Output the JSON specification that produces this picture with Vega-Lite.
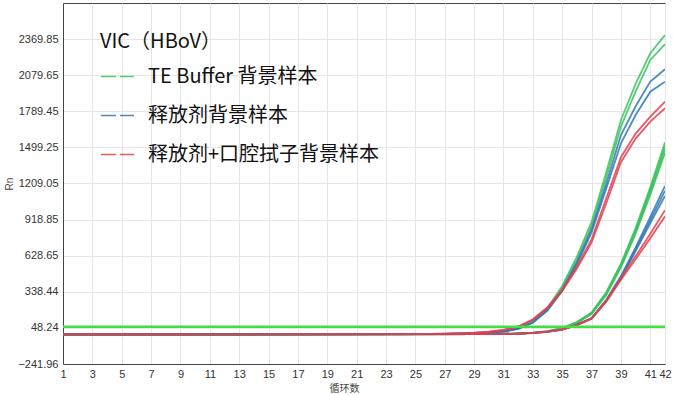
{
  "$schema": "https://vega.github.io/schema/vega-lite/v6.json",
  "autosize": "none",
  "width": 602,
  "height": 361,
  "padding": {"left": 63, "top": 3, "right": 8, "bottom": 31},
  "background": "white",
  "config": {
    "view": {"stroke": "#444", "strokeWidth": 1},
    "axis": {"labelFont": "Liberation Sans", "labelFontSize": 11, "labelColor": "#333", "titleFont": "Liberation Sans", "titleFontWeight": "normal", "titleColor": "#444", "titleFontSize": 10, "gridColor": "#e6e6e6", "gridWidth": 1, "domainColor": "#444", "ticks": false}
  },
  "datasets": {
    "curves": [
      {"w":"EG1","g":"TE Buffer 背景样本","c":1,"v":-4},{"w":"EG1","g":"TE Buffer 背景样本","c":26,"v":-2},{"w":"EG1","g":"TE Buffer 背景样本","c":27,"v":0},{"w":"EG1","g":"TE Buffer 背景样本","c":28,"v":3},{"w":"EG1","g":"TE Buffer 背景样本","c":29,"v":6},{"w":"EG1","g":"TE Buffer 背景样本","c":30,"v":11},{"w":"EG1","g":"TE Buffer 背景样本","c":31,"v":21},{"w":"EG1","g":"TE Buffer 背景样本","c":32,"v":45},{"w":"EG1","g":"TE Buffer 背景样本","c":33,"v":100},{"w":"EG1","g":"TE Buffer 背景样本","c":34,"v":210},{"w":"EG1","g":"TE Buffer 背景样本","c":35,"v":385},{"w":"EG1","g":"TE Buffer 背景样本","c":36,"v":620},{"w":"EG1","g":"TE Buffer 背景样本","c":37,"v":900},{"w":"EG1","g":"TE Buffer 背景样本","c":38,"v":1300},{"w":"EG1","g":"TE Buffer 背景样本","c":39,"v":1720},{"w":"EG1","g":"TE Buffer 背景样本","c":40,"v":2010},{"w":"EG1","g":"TE Buffer 背景样本","c":41,"v":2256},{"w":"EG1","g":"TE Buffer 背景样本","c":42,"v":2403},
      {"w":"EG2","g":"TE Buffer 背景样本","c":1,"v":-4},{"w":"EG2","g":"TE Buffer 背景样本","c":26,"v":-2},{"w":"EG2","g":"TE Buffer 背景样本","c":27,"v":0},{"w":"EG2","g":"TE Buffer 背景样本","c":28,"v":3},{"w":"EG2","g":"TE Buffer 背景样本","c":29,"v":6},{"w":"EG2","g":"TE Buffer 背景样本","c":30,"v":11},{"w":"EG2","g":"TE Buffer 背景样本","c":31,"v":20},{"w":"EG2","g":"TE Buffer 背景样本","c":32,"v":43},{"w":"EG2","g":"TE Buffer 背景样本","c":33,"v":95},{"w":"EG2","g":"TE Buffer 背景样本","c":34,"v":200},{"w":"EG2","g":"TE Buffer 背景样本","c":35,"v":370},{"w":"EG2","g":"TE Buffer 背景样本","c":36,"v":595},{"w":"EG2","g":"TE Buffer 背景样本","c":37,"v":870},{"w":"EG2","g":"TE Buffer 背景样本","c":38,"v":1260},{"w":"EG2","g":"TE Buffer 背景样本","c":39,"v":1666},{"w":"EG2","g":"TE Buffer 背景样本","c":40,"v":1950},{"w":"EG2","g":"TE Buffer 背景样本","c":41,"v":2202},{"w":"EG2","g":"TE Buffer 背景样本","c":42,"v":2330},
      {"w":"EB1","g":"释放剂背景样本","c":1,"v":-4},{"w":"EB1","g":"释放剂背景样本","c":26,"v":-2},{"w":"EB1","g":"释放剂背景样本","c":27,"v":0},{"w":"EB1","g":"释放剂背景样本","c":28,"v":3},{"w":"EB1","g":"释放剂背景样本","c":29,"v":6},{"w":"EB1","g":"释放剂背景样本","c":30,"v":11},{"w":"EB1","g":"释放剂背景样本","c":31,"v":19},{"w":"EB1","g":"释放剂背景样本","c":32,"v":42},{"w":"EB1","g":"释放剂背景样本","c":33,"v":92},{"w":"EB1","g":"释放剂背景样本","c":34,"v":195},{"w":"EB1","g":"释放剂背景样本","c":35,"v":355},{"w":"EB1","g":"释放剂背景样本","c":36,"v":575},{"w":"EB1","g":"释放剂背景样本","c":37,"v":840},{"w":"EB1","g":"释放剂背景样本","c":38,"v":1210},{"w":"EB1","g":"释放剂背景样本","c":39,"v":1599},{"w":"EB1","g":"释放剂背景样本","c":40,"v":1830},{"w":"EB1","g":"释放剂背景样本","c":41,"v":2028},{"w":"EB1","g":"释放剂背景样本","c":42,"v":2127},
      {"w":"EB2","g":"释放剂背景样本","c":1,"v":-4},{"w":"EB2","g":"释放剂背景样本","c":26,"v":-2},{"w":"EB2","g":"释放剂背景样本","c":27,"v":0},{"w":"EB2","g":"释放剂背景样本","c":28,"v":3},{"w":"EB2","g":"释放剂背景样本","c":29,"v":6},{"w":"EB2","g":"释放剂背景样本","c":30,"v":10},{"w":"EB2","g":"释放剂背景样本","c":31,"v":18},{"w":"EB2","g":"释放剂背景样本","c":32,"v":40},{"w":"EB2","g":"释放剂背景样本","c":33,"v":90},{"w":"EB2","g":"释放剂背景样本","c":34,"v":188},{"w":"EB2","g":"释放剂背景样本","c":35,"v":345},{"w":"EB2","g":"释放剂背景样本","c":36,"v":560},{"w":"EB2","g":"释放剂背景样本","c":37,"v":815},{"w":"EB2","g":"释放剂背景样本","c":38,"v":1170},{"w":"EB2","g":"释放剂背景样本","c":39,"v":1532},{"w":"EB2","g":"释放剂背景样本","c":40,"v":1760},{"w":"EB2","g":"释放剂背景样本","c":41,"v":1947},{"w":"EB2","g":"释放剂背景样本","c":42,"v":2027},
      {"w":"ER1","g":"释放剂+口腔拭子背景样本","c":1,"v":-4},{"w":"ER1","g":"释放剂+口腔拭子背景样本","c":26,"v":0},{"w":"ER1","g":"释放剂+口腔拭子背景样本","c":27,"v":2},{"w":"ER1","g":"释放剂+口腔拭子背景样本","c":28,"v":5},{"w":"ER1","g":"释放剂+口腔拭子背景样本","c":29,"v":10},{"w":"ER1","g":"释放剂+口腔拭子背景样本","c":30,"v":18},{"w":"ER1","g":"释放剂+口腔拭子背景样本","c":31,"v":32},{"w":"ER1","g":"释放剂+口腔拭子背景样本","c":32,"v":60},{"w":"ER1","g":"释放剂+口腔拭子背景样本","c":33,"v":118},{"w":"ER1","g":"释放剂+口腔拭子背景样本","c":34,"v":215},{"w":"ER1","g":"释放剂+口腔拭子背景样本","c":35,"v":355},{"w":"ER1","g":"释放剂+口腔拭子背景样本","c":36,"v":540},{"w":"ER1","g":"释放剂+口腔拭子背景样本","c":37,"v":760},{"w":"ER1","g":"释放剂+口腔拭子背景样本","c":38,"v":1090},{"w":"ER1","g":"释放剂+口腔拭子背景样本","c":39,"v":1420},{"w":"ER1","g":"释放剂+口腔拭子背景样本","c":40,"v":1610},{"w":"ER1","g":"释放剂+口腔拭子背景样本","c":41,"v":1746},{"w":"ER1","g":"释放剂+口腔拭子背景样本","c":42,"v":1867},
      {"w":"ER2","g":"释放剂+口腔拭子背景样本","c":1,"v":-4},{"w":"ER2","g":"释放剂+口腔拭子背景样本","c":26,"v":0},{"w":"ER2","g":"释放剂+口腔拭子背景样本","c":27,"v":2},{"w":"ER2","g":"释放剂+口腔拭子背景样本","c":28,"v":5},{"w":"ER2","g":"释放剂+口腔拭子背景样本","c":29,"v":9},{"w":"ER2","g":"释放剂+口腔拭子背景样本","c":30,"v":17},{"w":"ER2","g":"释放剂+口腔拭子背景样本","c":31,"v":30},{"w":"ER2","g":"释放剂+口腔拭子背景样本","c":32,"v":57},{"w":"ER2","g":"释放剂+口腔拭子背景样本","c":33,"v":112},{"w":"ER2","g":"释放剂+口腔拭子背景样本","c":34,"v":205},{"w":"ER2","g":"释放剂+口腔拭子背景样本","c":35,"v":345},{"w":"ER2","g":"释放剂+口腔拭子背景样本","c":36,"v":525},{"w":"ER2","g":"释放剂+口腔拭子背景样本","c":37,"v":735},{"w":"ER2","g":"释放剂+口腔拭子背景样本","c":38,"v":1050},{"w":"ER2","g":"释放剂+口腔拭子背景样本","c":39,"v":1380},{"w":"ER2","g":"释放剂+口腔拭子背景样本","c":40,"v":1570},{"w":"ER2","g":"释放剂+口腔拭子背景样本","c":41,"v":1706},{"w":"ER2","g":"释放剂+口腔拭子背景样本","c":42,"v":1814},
      {"w":"LG1","g":"TE Buffer 背景样本","c":1,"v":-4},{"w":"LG1","g":"TE Buffer 背景样本","c":30,"v":-2},{"w":"LG1","g":"TE Buffer 背景样本","c":31,"v":0},{"w":"LG1","g":"TE Buffer 背景样本","c":32,"v":3},{"w":"LG1","g":"TE Buffer 背景样本","c":33,"v":9},{"w":"LG1","g":"TE Buffer 背景样本","c":34,"v":22},{"w":"LG1","g":"TE Buffer 背景样本","c":35,"v":46},{"w":"LG1","g":"TE Buffer 背景样本","c":36,"v":96},{"w":"LG1","g":"TE Buffer 背景样本","c":37,"v":172},{"w":"LG1","g":"TE Buffer 背景样本","c":38,"v":335},{"w":"LG1","g":"TE Buffer 背景样本","c":39,"v":565},{"w":"LG1","g":"TE Buffer 背景样本","c":40,"v":850},{"w":"LG1","g":"TE Buffer 背景样本","c":41,"v":1180},{"w":"LG1","g":"TE Buffer 背景样本","c":42,"v":1540},
      {"w":"LG2","g":"TE Buffer 背景样本","c":1,"v":-4},{"w":"LG2","g":"TE Buffer 背景样本","c":30,"v":-2},{"w":"LG2","g":"TE Buffer 背景样本","c":31,"v":0},{"w":"LG2","g":"TE Buffer 背景样本","c":32,"v":3},{"w":"LG2","g":"TE Buffer 背景样本","c":33,"v":9},{"w":"LG2","g":"TE Buffer 背景样本","c":34,"v":21},{"w":"LG2","g":"TE Buffer 背景样本","c":35,"v":44},{"w":"LG2","g":"TE Buffer 背景样本","c":36,"v":93},{"w":"LG2","g":"TE Buffer 背景样本","c":37,"v":168},{"w":"LG2","g":"TE Buffer 背景样本","c":38,"v":328},{"w":"LG2","g":"TE Buffer 背景样本","c":39,"v":555},{"w":"LG2","g":"TE Buffer 背景样本","c":40,"v":835},{"w":"LG2","g":"TE Buffer 背景样本","c":41,"v":1160},{"w":"LG2","g":"TE Buffer 背景样本","c":42,"v":1510},
      {"w":"LG3","g":"TE Buffer 背景样本","c":1,"v":-4},{"w":"LG3","g":"TE Buffer 背景样本","c":30,"v":-2},{"w":"LG3","g":"TE Buffer 背景样本","c":31,"v":0},{"w":"LG3","g":"TE Buffer 背景样本","c":32,"v":3},{"w":"LG3","g":"TE Buffer 背景样本","c":33,"v":8},{"w":"LG3","g":"TE Buffer 背景样本","c":34,"v":20},{"w":"LG3","g":"TE Buffer 背景样本","c":35,"v":42},{"w":"LG3","g":"TE Buffer 背景样本","c":36,"v":90},{"w":"LG3","g":"TE Buffer 背景样本","c":37,"v":163},{"w":"LG3","g":"TE Buffer 背景样本","c":38,"v":320},{"w":"LG3","g":"TE Buffer 背景样本","c":39,"v":545},{"w":"LG3","g":"TE Buffer 背景样本","c":40,"v":820},{"w":"LG3","g":"TE Buffer 背景样本","c":41,"v":1140},{"w":"LG3","g":"TE Buffer 背景样本","c":42,"v":1480},
      {"w":"LG4","g":"TE Buffer 背景样本","c":1,"v":-4},{"w":"LG4","g":"TE Buffer 背景样本","c":30,"v":-2},{"w":"LG4","g":"TE Buffer 背景样本","c":31,"v":0},{"w":"LG4","g":"TE Buffer 背景样本","c":32,"v":3},{"w":"LG4","g":"TE Buffer 背景样本","c":33,"v":8},{"w":"LG4","g":"TE Buffer 背景样本","c":34,"v":20},{"w":"LG4","g":"TE Buffer 背景样本","c":35,"v":41},{"w":"LG4","g":"TE Buffer 背景样本","c":36,"v":88},{"w":"LG4","g":"TE Buffer 背景样本","c":37,"v":160},{"w":"LG4","g":"TE Buffer 背景样本","c":38,"v":312},{"w":"LG4","g":"TE Buffer 背景样本","c":39,"v":535},{"w":"LG4","g":"TE Buffer 背景样本","c":40,"v":805},{"w":"LG4","g":"TE Buffer 背景样本","c":41,"v":1120},{"w":"LG4","g":"TE Buffer 背景样本","c":42,"v":1455},
      {"w":"LB1","g":"释放剂背景样本","c":1,"v":-4},{"w":"LB1","g":"释放剂背景样本","c":30,"v":-2},{"w":"LB1","g":"释放剂背景样本","c":31,"v":0},{"w":"LB1","g":"释放剂背景样本","c":32,"v":3},{"w":"LB1","g":"释放剂背景样本","c":33,"v":8},{"w":"LB1","g":"释放剂背景样本","c":34,"v":18},{"w":"LB1","g":"释放剂背景样本","c":35,"v":36},{"w":"LB1","g":"释放剂背景样本","c":36,"v":75},{"w":"LB1","g":"释放剂背景样本","c":37,"v":128},{"w":"LB1","g":"释放剂背景样本","c":38,"v":275},{"w":"LB1","g":"释放剂背景样本","c":39,"v":465},{"w":"LB1","g":"释放剂背景样本","c":40,"v":695},{"w":"LB1","g":"释放剂背景样本","c":41,"v":940},{"w":"LB1","g":"释放剂背景样本","c":42,"v":1190},
      {"w":"LB2","g":"释放剂背景样本","c":1,"v":-4},{"w":"LB2","g":"释放剂背景样本","c":30,"v":-2},{"w":"LB2","g":"释放剂背景样本","c":31,"v":0},{"w":"LB2","g":"释放剂背景样本","c":32,"v":3},{"w":"LB2","g":"释放剂背景样本","c":33,"v":8},{"w":"LB2","g":"释放剂背景样本","c":34,"v":18},{"w":"LB2","g":"释放剂背景样本","c":35,"v":35},{"w":"LB2","g":"释放剂背景样本","c":36,"v":73},{"w":"LB2","g":"释放剂背景样本","c":37,"v":125},{"w":"LB2","g":"释放剂背景样本","c":38,"v":268},{"w":"LB2","g":"释放剂背景样本","c":39,"v":455},{"w":"LB2","g":"释放剂背景样本","c":40,"v":680},{"w":"LB2","g":"释放剂背景样本","c":41,"v":915},{"w":"LB2","g":"释放剂背景样本","c":42,"v":1150},
      {"w":"LB3","g":"释放剂背景样本","c":1,"v":-4},{"w":"LB3","g":"释放剂背景样本","c":30,"v":-2},{"w":"LB3","g":"释放剂背景样本","c":31,"v":0},{"w":"LB3","g":"释放剂背景样本","c":32,"v":3},{"w":"LB3","g":"释放剂背景样本","c":33,"v":7},{"w":"LB3","g":"释放剂背景样本","c":34,"v":17},{"w":"LB3","g":"释放剂背景样本","c":35,"v":34},{"w":"LB3","g":"释放剂背景样本","c":36,"v":70},{"w":"LB3","g":"释放剂背景样本","c":37,"v":122},{"w":"LB3","g":"释放剂背景样本","c":38,"v":262},{"w":"LB3","g":"释放剂背景样本","c":39,"v":445},{"w":"LB3","g":"释放剂背景样本","c":40,"v":665},{"w":"LB3","g":"释放剂背景样本","c":41,"v":890},{"w":"LB3","g":"释放剂背景样本","c":42,"v":1110},
      {"w":"LR1","g":"释放剂+口腔拭子背景样本","c":1,"v":-4},{"w":"LR1","g":"释放剂+口腔拭子背景样本","c":30,"v":-2},{"w":"LR1","g":"释放剂+口腔拭子背景样本","c":31,"v":0},{"w":"LR1","g":"释放剂+口腔拭子背景样本","c":32,"v":3},{"w":"LR1","g":"释放剂+口腔拭子背景样本","c":33,"v":8},{"w":"LR1","g":"释放剂+口腔拭子背景样本","c":34,"v":18},{"w":"LR1","g":"释放剂+口腔拭子背景样本","c":35,"v":36},{"w":"LR1","g":"释放剂+口腔拭子背景样本","c":36,"v":74},{"w":"LR1","g":"释放剂+口腔拭子背景样本","c":37,"v":126},{"w":"LR1","g":"释放剂+口腔拭子背景样本","c":38,"v":268},{"w":"LR1","g":"释放剂+口腔拭子背景样本","c":39,"v":450},{"w":"LR1","g":"释放剂+口腔拭子背景样本","c":40,"v":625},{"w":"LR1","g":"释放剂+口腔拭子背景样本","c":41,"v":805},{"w":"LR1","g":"释放剂+口腔拭子背景样本","c":42,"v":995},
      {"w":"LR2","g":"释放剂+口腔拭子背景样本","c":1,"v":-4},{"w":"LR2","g":"释放剂+口腔拭子背景样本","c":30,"v":-2},{"w":"LR2","g":"释放剂+口腔拭子背景样本","c":31,"v":0},{"w":"LR2","g":"释放剂+口腔拭子背景样本","c":32,"v":3},{"w":"LR2","g":"释放剂+口腔拭子背景样本","c":33,"v":7},{"w":"LR2","g":"释放剂+口腔拭子背景样本","c":34,"v":17},{"w":"LR2","g":"释放剂+口腔拭子背景样本","c":35,"v":34},{"w":"LR2","g":"释放剂+口腔拭子背景样本","c":36,"v":70},{"w":"LR2","g":"释放剂+口腔拭子背景样本","c":37,"v":122},{"w":"LR2","g":"释放剂+口腔拭子背景样本","c":38,"v":258},{"w":"LR2","g":"释放剂+口腔拭子背景样本","c":39,"v":435},{"w":"LR2","g":"释放剂+口腔拭子背景样本","c":40,"v":600},{"w":"LR2","g":"释放剂+口腔拭子背景样本","c":41,"v":770},{"w":"LR2","g":"释放剂+口腔拭子背景样本","c":42,"v":945}
    ],
    "threshold": [{"t": 58}]
  },
  "layer": [
    {
      "data": {"name": "curves"},
      "mark": {"type": "line", "strokeWidth": 1.8, "opacity": 0.85, "clip": true},
      "encoding": {
        "x": {"field": "c", "type": "quantitative", "scale": {"domain": [1, 42], "nice": false, "zero": false},
          "axis": {"values": [1,3,5,7,9,11,13,15,17,19,21,23,25,27,29,31,33,35,37,39,41,42], "title": "循环数", "titleFont": "Noto Sans CJK SC", "titleX": 281, "titlePadding": 4, "labelPadding": 4, "labelFlush": false, "labelOverlap": false}},
        "y": {"field": "v", "type": "quantitative", "scale": {"domain": [-241.96, 2660.05], "nice": false, "zero": false},
          "axis": {"values": [-241.96, 48.24, 338.44, 628.65, 918.85, 1209.05, 1499.25, 1789.45, 2079.65, 2369.85], "format": ".2f", "title": "Rn", "titlePadding": 3, "labelPadding": 5}},
        "color": {"field": "g", "type": "nominal",
          "scale": {"domain": ["TE Buffer 背景样本", "释放剂背景样本", "释放剂+口腔拭子背景样本"], "range": ["#3cc25e", "#2f78b6", "#e0404e"]},
          "legend": {"orient": "none", "legendX": 37, "legendY": 29, "title": "VIC（HBoV）", "titleFont": "Noto Sans CJK SC", "titleFontSize": 20, "titleFontWeight": "normal", "titleColor": "#111", "titlePadding": 7, "labelFont": "Noto Sans CJK SC", "labelFontSize": 20, "labelColor": "#111", "labelLimit": 400, "symbolType": "stroke", "symbolSize": 1100, "symbolStrokeWidth": 1.5, "symbolDash": [15, 4], "rowPadding": 11, "labelOffset": 13, "padding": 0}},
        "detail": {"field": "w", "type": "nominal"}
      }
    },
    {
      "data": {"name": "threshold"},
      "mark": {"type": "rule", "color": "#3fe040", "strokeWidth": 2.5},
      "encoding": {"y": {"field": "t", "type": "quantitative"}}
    }
  ]
}
